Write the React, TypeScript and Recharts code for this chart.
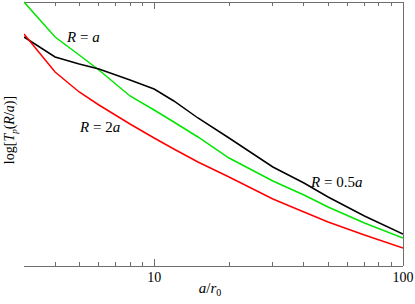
import { LineChart, Line, XAxis, YAxis, ReferenceLine, Customized } from 'recharts'

// a/r0 sample points and curve heights (arbitrary log units)
const ratios = [3, 4, 5, 6, 8, 10, 12, 15, 20, 30, 40, 50, 70, 100]
const rEqualA = [264, 229, 211, 196, 170, 156, 144, 129, 108, 85, 71, 59, 43, 28]
const rHalfA = [229, 209, 202, 197, 186, 177, 165, 148, 128, 99, 83, 69, 50, 32]
const rTwoA = [232, 194, 174, 161, 142, 128, 117, 104, 89, 67, 54, 44, 31, 18]

const xTicks = [4, 5, 6, 7, 8, 9, 10, 20, 30, 40, 50, 60, 70, 80, 90, 100]
const majorTicks = [10, 100]
const Y_MAX = 264

const data = ratios.map((x, i) => ({
  x,
  a: rEqualA[i],
  half: rHalfA[i],
  two: rTwoA[i]
}))

const FRAME = '#6e6e6e'
const FONT = '"Liberation Serif", "DejaVu Serif", serif'

function BottomTick(props: any) {
  const { x, y, payload } = props
  const major = majorTicks.includes(payload.value)
  return (
    <g>
      <line x1={x} x2={x} y1={y} y2={y - (major ? 7 : 4)} stroke={FRAME} shapeRendering="crispEdges" />
      {major && (
        <text x={x} y={y + 16} textAnchor="middle" fontSize={14} fontFamily={FONT} fill="#000">
          {payload.value}
        </text>
      )}
    </g>
  )
}

function Labels() {
  return (
    <g fontFamily={FONT} fill="#000">
      <text x={67} y={42} fontSize={15}>
        <tspan fontStyle="italic">R</tspan> = <tspan fontStyle="italic">a</tspan>
      </text>
      <text x={80} y={132} fontSize={15}>
        <tspan fontStyle="italic">R</tspan> = 2<tspan fontStyle="italic">a</tspan>
      </text>
      <text x={311} y={187} fontSize={15}>
        <tspan fontStyle="italic">R</tspan> = 0.5<tspan fontStyle="italic">a</tspan>
      </text>
      <text x={210} y={293} fontSize={15} textAnchor="middle">
        <tspan fontStyle="italic">a</tspan>/<tspan fontStyle="italic">r</tspan>
        <tspan fontSize={10} dy={3}>0</tspan>
      </text>
      <text transform="translate(14,130) rotate(-90)" fontSize={14} textAnchor="middle">
        log[<tspan fontStyle="italic">T</tspan>
        <tspan fontSize={9} fontStyle="italic" dy={3}>p</tspan>
        <tspan dy={-3}>(</tspan>
        <tspan fontStyle="italic">R</tspan>/<tspan fontStyle="italic">a</tspan>)]
      </text>
    </g>
  )
}

export default function App() {
  return (
    <div style={{ position: 'absolute', left: 0, top: 0, background: '#fff' }}>
      <LineChart width={415} height={304} data={data} margin={{ top: 2, right: 12, left: 24, bottom: 0 }}>
        <XAxis
          dataKey="x"
          type="number"
          scale="log"
          domain={[3, 100]}
          ticks={xTicks}
          interval={0}
          tickSize={0}
          tickMargin={0}
          tick={<BottomTick />}
          axisLine={{ stroke: FRAME, shapeRendering: 'crispEdges' }}
          height={38}
          allowDataOverflow
        />
        <YAxis
          domain={[0, Y_MAX]}
          tick={false}
          tickLine={false}
          width={0}
          axisLine={{ stroke: FRAME, shapeRendering: 'crispEdges' }}
        />
        {/* top and right sides of the frame, with the top tick marks */}
        <ReferenceLine y={Y_MAX} stroke={FRAME} shapeRendering="crispEdges" ifOverflow="visible" />
        <ReferenceLine x={100} stroke={FRAME} shapeRendering="crispEdges" ifOverflow="visible" />
        {xTicks.map(t => (
          <ReferenceLine
            key={t}
            segment={[{ x: t, y: Y_MAX }, { x: t, y: Y_MAX - (majorTicks.includes(t) ? 7 : 4) }]}
            stroke={FRAME}
            shapeRendering="crispEdges"
            ifOverflow="visible"
          />
        ))}
        <Line type="linear" dataKey="a" stroke="#00e600" strokeWidth={1.5} dot={false} isAnimationActive={false} />
        <Line type="linear" dataKey="half" stroke="#000" strokeWidth={1.5} dot={false} isAnimationActive={false} />
        <Line type="linear" dataKey="two" stroke="#f00" strokeWidth={1.5} dot={false} isAnimationActive={false} />
        <Customized component={<Labels />} />
      </LineChart>
    </div>
  )
}
